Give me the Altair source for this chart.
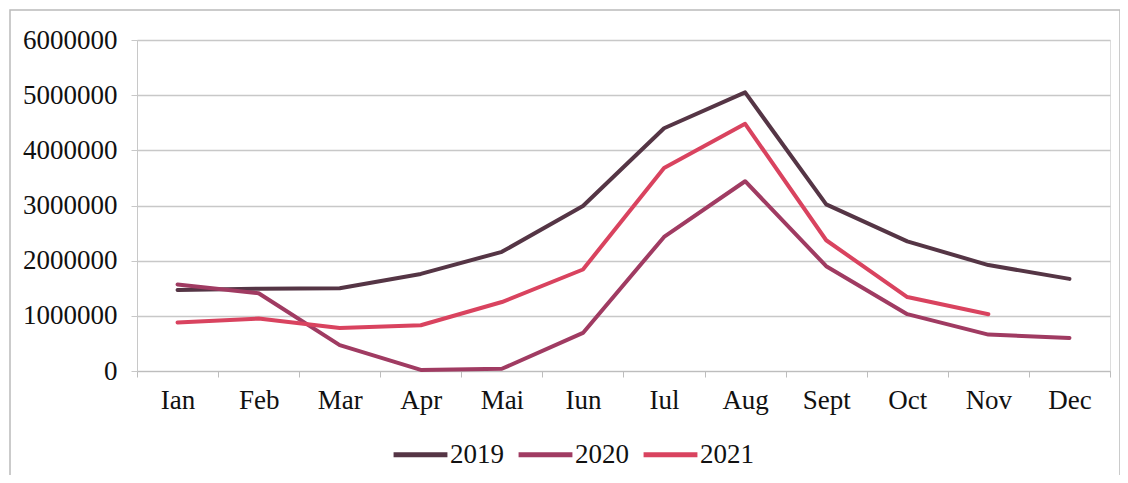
import altair as alt
import pandas as pd

months = ["Ian", "Feb", "Mar", "Apr", "Mai", "Iun", "Iul", "Aug", "Sept", "Oct", "Nov", "Dec"]
y2019 = [1470000, 1490000, 1500000, 1760000, 2160000, 2990000, 4400000, 5050000, 3020000, 2350000, 1920000, 1670000]
y2020 = [1570000, 1410000, 470000, 20000, 40000, 690000, 2430000, 3440000, 1900000, 1030000, 660000, 600000]
y2021 = [880000, 950000, 780000, 830000, 1250000, 1840000, 3680000, 4480000, 2370000, 1340000, 1030000]

rows = []
for name, vals in [("2019", y2019), ("2020", y2020), ("2021", y2021)]:
    for m, v in zip(months, vals):
        rows.append({"month": m, "value": v, "series": name})
df = pd.DataFrame(rows)

FONT = "Liberation Serif"
FS = 27

lines = alt.Chart(df).mark_line(strokeWidth=4, strokeJoin="round", strokeCap="round").encode(
    x=alt.X("month:N", sort=months, bandPosition=0.5,
            scale=alt.Scale(type="band", paddingInner=0, paddingOuter=0),
            axis=alt.Axis(title=None, labelAngle=0, tickBand="extent", grid=False,
                          domainColor="#bdbdbd", tickColor="#bdbdbd", tickSize=6,
                          labelFont=FONT, labelFontSize=FS, labelColor="#111111",
                          labelPadding=10)),
    y=alt.Y("value:Q", scale=alt.Scale(domain=[0, 6000000], nice=False),
            axis=alt.Axis(title=None, values=[0, 1000000, 2000000, 3000000, 4000000, 5000000, 6000000],
                          format="d", gridColor="#c8c8c8", gridWidth=1.3,
                          domainColor="#c8c8c8", tickColor="#c8c8c8", tickSize=6,
                          labelFont=FONT, labelFontSize=FS, labelColor="#111111",
                          labelPadding=14)),
    color=alt.Color("series:N",
                    scale=alt.Scale(domain=["2019", "2020", "2021"],
                                    range=["#553545", "#a03b62", "#d9435f"]),
                    legend=alt.Legend(title=None, orient="none", legendX=254, legendY=385,
                                      direction="horizontal", symbolType="stroke",
                                      symbolStrokeWidth=5, symbolSize=2900,
                                      labelFont=FONT, labelFontSize=FS, labelColor="#111111",
                                      columnPadding=4, labelOffset=0)),
)

frame = alt.Chart(pd.DataFrame({"a": [0]})).mark_rect(fill=None, stroke="#bbbbbb", strokeWidth=1.5).encode(
    x=alt.value(-127), x2=alt.value(983), y=alt.value(-30), y2=alt.value(480)
)

chart = alt.layer(frame, lines).properties(
    width=973, height=331,
    autosize=alt.AutoSizeParams(type="none"),
    padding={"left": 129, "top": 32, "right": 10, "bottom": 104},
).configure_view(stroke=None).configure(background="white")

chart.save("out.html", embed_options={"renderer": "svg", "actions": False})
